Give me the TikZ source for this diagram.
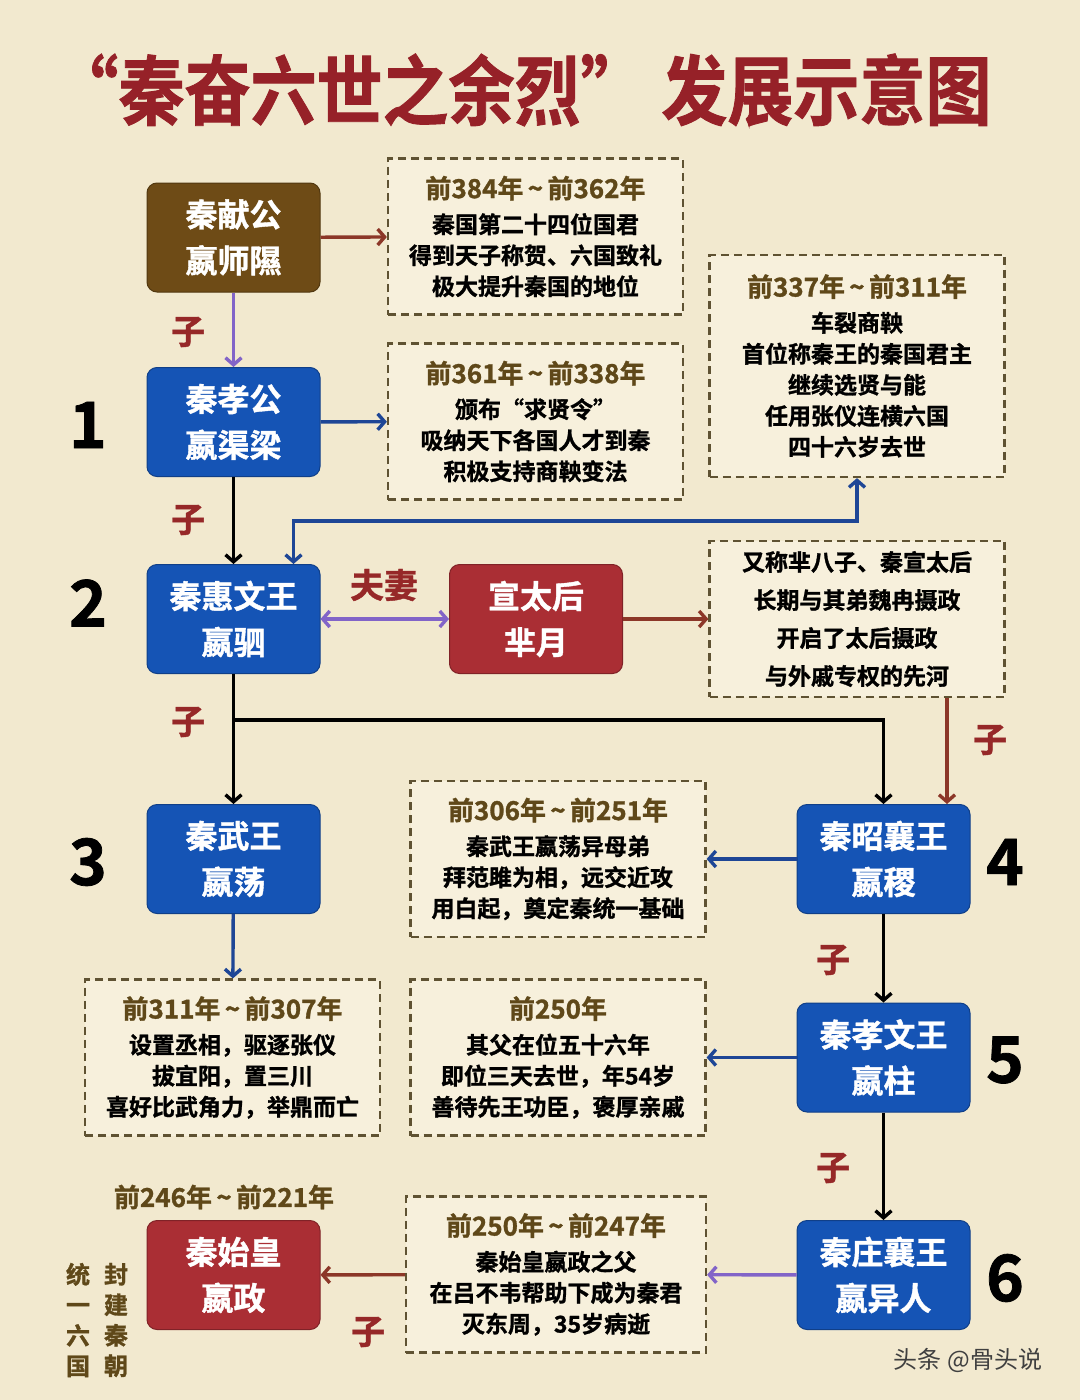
\documentclass[tikz,border=0pt]{standalone}
\usepackage{fontspec}
\setmainfont{Noto Sans CJK SC}[BoldFont={Noto Sans CJK SC Bold},BoldFeatures={FakeBold=1.2}]
\usetikzlibrary{arrows.meta,calc}
\definecolor{PaperBg}{RGB}{242,233,207}
\definecolor{NoteFill}{RGB}{247,240,220}
\definecolor{DashBrown}{RGB}{95,82,50}
\definecolor{DateBrown}{RGB}{95,72,25}
\definecolor{TitleRed}{RGB}{150,33,40}
\definecolor{SonRed}{RGB}{150,40,40}
\definecolor{KingBrown}{RGB}{110,75,22}
\definecolor{KingBlue}{RGB}{21,84,181}
\definecolor{KingRed}{RGB}{170,46,52}
\definecolor{LinkBrown}{RGB}{140,55,40}
\definecolor{LinkPurple}{RGB}{130,100,200}
\definecolor{LinkBlue}{RGB}{30,70,150}
\newcommand{\dateline}[1]{{\fontsize{26}{31}\selectfont\color{DateBrown}#1}\\[4pt]}

\begin{document}
\begin{tikzpicture}[
      x=1pt,y=-1pt,
      kingBox/.style={draw=#1!75!black,fill=#1,rounded corners=10pt,
                      minimum width=173pt,minimum height=109pt,line width=1pt,
                      align=center,text=white,font=\fontsize{32}{46}\selectfont\bfseries},
      noteBox/.style={draw=DashBrown,fill=NoteFill,dash pattern=on 8pt off 5pt,
                      line width=2.2pt,minimum width=295pt,minimum height=156pt,
                      align=center,font=\fontsize{23}{31}\selectfont\bfseries},
      sonLbl/.style={text=SonRed,font=\fontsize{34}{34}\selectfont\bfseries},
      genNum/.style={font=\fontsize{64}{64}\selectfont\bfseries},
      barb/.tip={Straight Barb[length=7pt,width=16pt]},
      arLink/.style={-barb,line width=3.4pt,#1},
      arBoth/.style={barb-barb,line width=3.4pt,#1}
    ]
    \useasboundingbox[fill=PaperBg] (0,0) rectangle (1080,1400);

    % Title
    \node(title)[text=TitleRed,font=\fontsize{66}{66}\selectfont\bfseries] at (522,90)
      {\scalebox{1}[1.15]{“秦奋六世之余烈”\ 发展示意图}};

    % Rulers
    \node(xian)[kingBox=KingBrown] at (233.5,237.5) {秦献公\\嬴师隰};
    \node(xiao)[kingBox=KingBlue] at (233.5,422) {秦孝公\\嬴渠梁};
    \node(hui)[kingBox=KingBlue] at (233.5,619) {秦惠文王\\嬴驷};
    \node(xuan)[kingBox=KingRed] at (536,619) {宣太后\\芈月};
    \node(wu)[kingBox=KingBlue] at (233.5,859) {秦武王\\嬴荡};
    \node(zhao)[kingBox=KingBlue] at (883.5,859) {秦昭襄王\\嬴稷};
    \node(xiaow)[kingBox=KingBlue] at (883.5,1057.5) {秦孝文王\\嬴柱};
    \node(zhuang)[kingBox=KingBlue] at (883.5,1275) {秦庄襄王\\嬴异人};
    \node(shi)[kingBox=KingRed] at (233.5,1275) {秦始皇\\嬴政};

    % Notes
    \node(d1)[noteBox] at (535.5,236.5) {\dateline{前384年\,\textasciitilde\,前362年}%
      秦国第二十四位国君\\得到天子称贺、六国致礼\\极大提升秦国的地位};
    \node(d2)[noteBox] at (535.5,421.5) {\dateline{前361年\,\textasciitilde\,前338年}%
      颁布“求贤令”\\吸纳天下各国人才到秦\\积极支持商鞅变法};
    \node(d3)[noteBox,minimum height=222pt] at (857,366) {\dateline{前337年\,\textasciitilde\,前311年}%
      车裂商鞅\\首位称秦王的秦国君主\\继续选贤与能\\任用张仪连横六国\\四十六岁去世};
    \node(d4)[noteBox,font=\fontsize{23}{38}\selectfont\bfseries] at (857,619)
      {又称芈八子、秦宣太后\\长期与其弟魏冉摄政\\开启了太后摄政\\与外戚专权的先河};
    \node(d5)[noteBox] at (558,859) {\dateline{前306年\,\textasciitilde\,前251年}%
      秦武王嬴荡异母弟\\拜范雎为相，远交近攻\\用白起，奠定秦统一基础};
    \node(d6)[noteBox] at (232.5,1057.5) {\dateline{前311年\,\textasciitilde\,前307年}%
      设置丞相，驱逐张仪\\拔宜阳，置三川\\喜好比武角力，举鼎而亡};
    \node(d7)[noteBox] at (558,1057.5) {\dateline{前250年}%
      其父在位五十六年\\即位三天去世，年54岁\\善待先王功臣，褒厚亲戚};
    \node(d8)[noteBox,minimum width=300pt] at (556,1274.5) {\dateline{前250年\,\textasciitilde\,前247年}%
      秦始皇嬴政之父\\在吕不韦帮助下成为秦君\\灭东周，35岁病逝};

    % Labels
    \node(n1)[genNum] at (88,425) {1};
    \node(n2)[genNum] at (88,603) {2};
    \node(n3)[genNum] at (88,862) {3};
    \node(n4)[genNum] at (1005,862) {4};
    \node(n5)[genNum] at (1005,1060) {5};
    \node(n6)[genNum] at (1005,1278) {6};
    \node(s1)[sonLbl] at (188,332) {子};
    \node(s2)[sonLbl] at (188,520) {子};
    \node(s3)[sonLbl] at (188,722) {子};
    \node(s4)[sonLbl] at (990,740) {子};
    \node(s5)[sonLbl] at (833,960) {子};
    \node(s6)[sonLbl] at (833,1168) {子};
    \node(s7)[sonLbl] at (368,1332) {子};
    \node(fuqi)[sonLbl] at (384,585) {夫妻};
    \node(shiyr)[text=DateBrown,font=\fontsize{26}{26}\selectfont\bfseries] at (224,1197)
      {前246年\,\textasciitilde\,前221年};
    \node(tong)[text=DateBrown,align=center,font=\fontsize{24}{30.5}\selectfont\bfseries]
      at (78,1320) {统\\一\\六\\国};
    \node(feng)[text=DateBrown,align=center,font=\fontsize{24}{30.5}\selectfont\bfseries]
      at (116,1320) {封\\建\\秦\\朝};
    \node(mark)[text=black!75,font=\fontsize{24}{24}\selectfont] at (968,1360) {头条 @骨头说};

    % Succession lines
    \coordinate(fork) at (233.5,720);
    \draw[arLink=LinkPurple] (xian) -- (xiao);
    \draw[arLink=black] (xiao) -- (hui);
    \draw[arLink=black] (hui) -- (wu);
    \draw[arLink=black] (fork) -| (zhao.north);
    \draw[arLink=black] (zhao) -- (xiaow);
    \draw[arLink=black] (xiaow) -- (zhuang);
    \draw[arBoth=LinkPurple] (hui) -- (xuan);

    % Lines to notes
    \draw[arLink=LinkBrown] (xian) -- (d1);
    \draw[arLink=LinkBlue] (xiao) -- (d2);
    \draw[arLink=LinkBrown] (xuan) -- (d4);
    \draw[arLink=LinkBrown] ([xshift=90pt]d4.south) -- ([xshift=90pt]d4.south |- zhao.north);
    \draw[arLink=LinkBlue] (wu) -- (d6);
    \draw[arLink=LinkBlue] (zhao) -- (d5);
    \draw[arLink=LinkBlue] (xiaow) -- (d7);
    \draw[arLink=LinkPurple] (zhuang) -- (d8);
    \draw[arLink=LinkBrown] (d8) -- (shi);
    \draw[arBoth=LinkBlue] (d3.south) -- ++(0,43) -| ([xshift=60pt]hui.north);
  \end{tikzpicture}
\end{document}
